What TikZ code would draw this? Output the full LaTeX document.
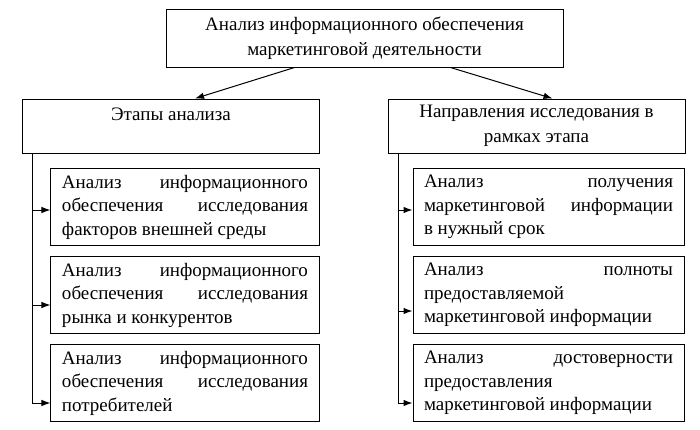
\documentclass[tikz,border=0pt]{standalone}
\usepackage{fontspec}
\setmainfont{Liberation Serif}
\usetikzlibrary{arrows.meta, positioning}

\tikzset{
  box/.style={draw, line width=1bp, inner sep=0pt,
    font=\fontsize{19bp}{24.5bp}\selectfont},
  headbox/.style={box, align=center},
  itembox/.style={box, text width=246bp, minimum height=77bp,
    align=justify, inner xsep=11bp,
    font=\fontsize{19bp}{23.5bp}\selectfont},
  arr/.style={line width=1bp, -{Latex[length=9bp,width=6.5bp]}}
}

\begin{document}
\begin{tikzpicture}[x=1bp, y=-1bp]
    \useasboundingbox (0,0) rectangle (700,429);
    % Top
    \node[headbox, minimum width=397bp, minimum height=58bp] (ana) at (364.5,38)
        {Анализ информационного обеспечения\\маркетинговой деятельности};
    % Headers
    \node[headbox, minimum width=296bp, minimum height=54bp] (etap) at (171,126)
        {Этапы анализа\\~};
    \node[headbox, minimum width=297bp, minimum height=54bp] (napr) at (536.5,126)
        {Направления исследования в\\рамках этапа};
    \draw[arr] ([xshift=-70bp]ana.south) -- ([xshift=24bp]etap.north);
    \draw[arr] ([xshift=86bp]ana.south) -- ([xshift=16bp]napr.north);

    % Stages
    \node[itembox] (l1) at (185,207)
        {Анализ информационного\linebreak обеспечения исследования\linebreak факторов внешней среды};
    \node[itembox] (l2) at (185,295)
        {Анализ информационного\linebreak обеспечения исследования\linebreak рынка и конкурентов};
    \node[itembox] (l3) at (185,383)
        {Анализ информационного\linebreak обеспечения исследования\linebreak потребителей};

    % Directions
    \node[itembox, text width=249bp] (r1) at (548.5,207)
        {Анализ получения\linebreak маркетинговой информации\linebreak в нужный срок};
    \node[itembox, text width=249bp] (r2) at (548.5,295)
        {Анализ полноты\linebreak предоставляемой\newline маркетинговой информации};
    \node[itembox, text width=249bp] (r3) at (548.5,383)
        {Анализ достоверности\linebreak предоставления\newline маркетинговой информации};

    % Connectors
    \coordinate (lt) at ([xshift=10bp]etap.south west);
    \coordinate (l1in) at ([yshift=-3bp]l1.west);
    \coordinate (l2in) at ([yshift=-10bp]l2.west);
    \coordinate (l3in) at ([yshift=-20bp]l3.west);
    \draw[arr] (lt) |- (l3in);
    \draw[arr] (lt |- l1in) -- (l1in);
    \draw[arr] (lt |- l2in) -- (l2in);

    \coordinate (rt) at ([xshift=11bp]napr.south west);
    \coordinate (r1in) at ([yshift=-3bp]r1.west);
    \coordinate (r2in) at ([yshift=-16bp]r2.west);
    \coordinate (r3in) at ([yshift=-20bp]r3.west);
    \draw[arr] (rt) |- (r3in);
    \draw[arr] (rt |- r1in) -- (r1in);
    \draw[arr] (rt |- r2in) -- (r2in);
\end{tikzpicture}
\end{document}
